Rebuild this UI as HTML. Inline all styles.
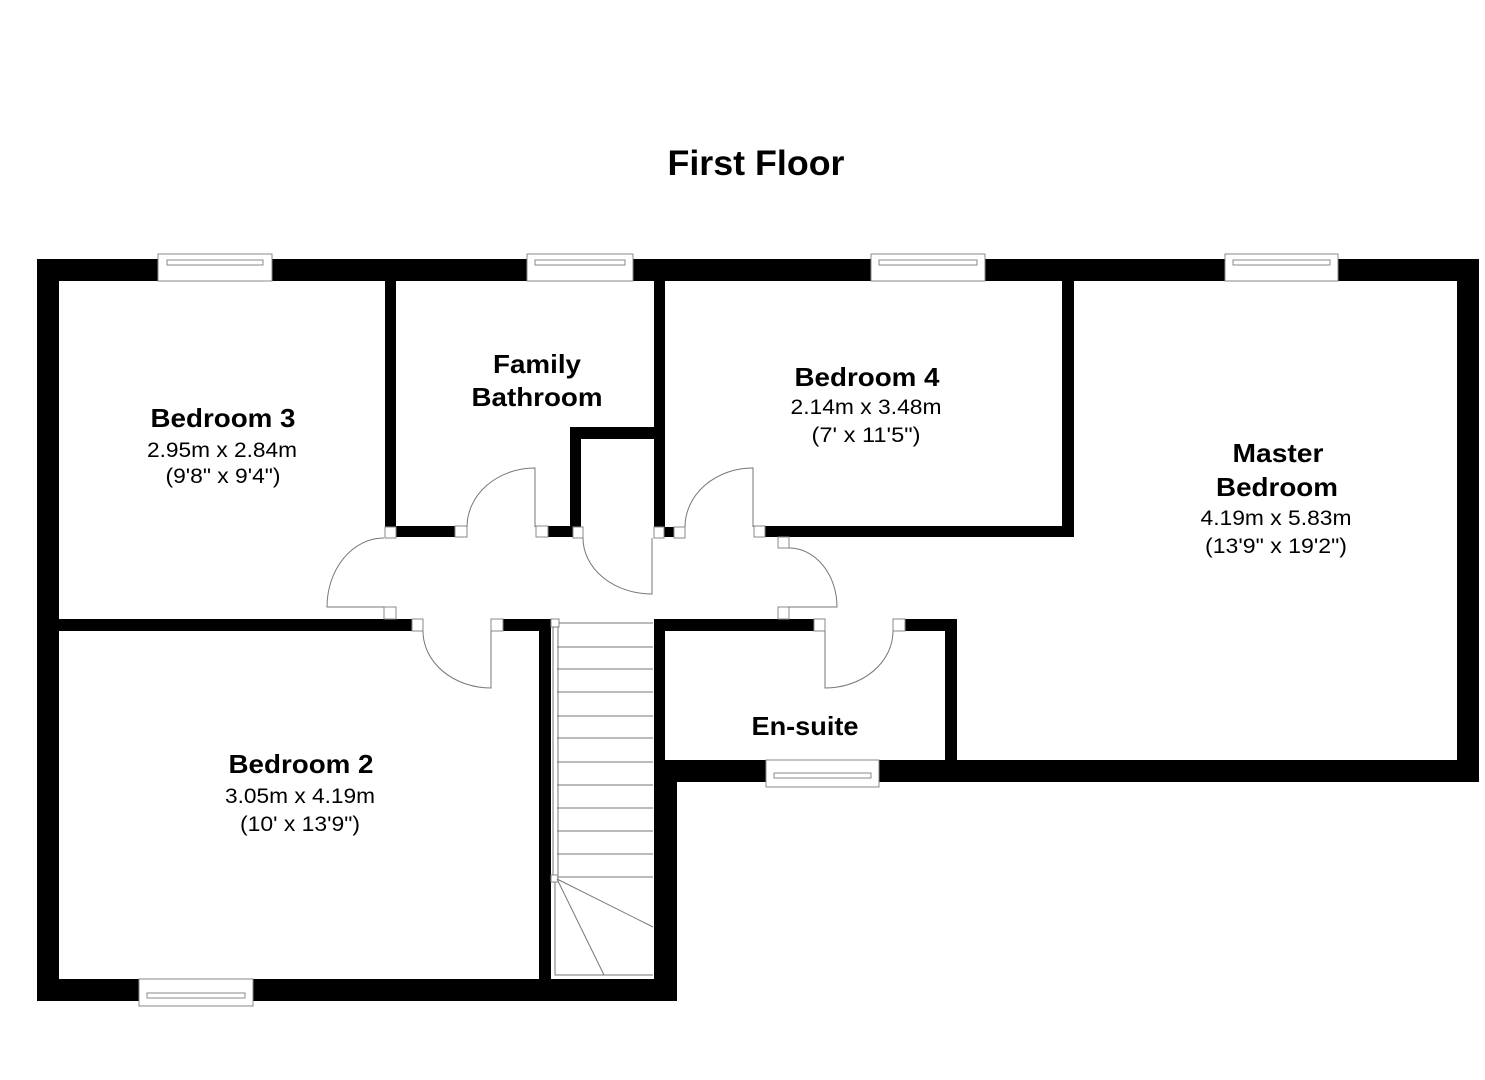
<!DOCTYPE html>
<html><head><meta charset="utf-8"><style>
html,body{margin:0;padding:0;background:#fff;}
svg{display:block;}
text{font-family:"Liberation Sans",Arial,sans-serif;fill:#000;}
.t{font-weight:bold;font-size:26px;}
.d{font-size:21px;}
.b{fill:#fff;stroke:#888;stroke-width:1;}
.l{fill:none;stroke:#777;stroke-width:1;}
</style></head><body>
<svg width="1485" height="1080" viewBox="0 0 1485 1080" xmlns="http://www.w3.org/2000/svg">
<rect width="1485" height="1080" fill="#fff"/>
<text x="756" y="175" text-anchor="middle" style="font-weight:bold;font-size:35px" textLength="177" lengthAdjust="spacingAndGlyphs">First Floor</text>
<g fill="#000">
<rect x="37" y="259" width="1442" height="22"/>
<rect x="37" y="259" width="22" height="742"/>
<rect x="1457" y="259" width="22" height="523"/>
<rect x="654" y="760" width="825" height="22"/>
<rect x="654" y="760" width="23" height="241"/>
<rect x="654" y="619" width="11" height="145"/>
<rect x="37" y="979" width="640" height="22"/>
<rect x="385" y="281" width="11" height="246"/>
<rect x="396" y="526" width="59" height="11"/>
<rect x="548" y="526" width="25" height="11"/>
<rect x="570" y="427" width="11" height="110"/>
<rect x="570" y="427" width="95" height="12"/>
<rect x="654" y="281" width="11" height="246"/>
<rect x="664" y="527" width="10" height="10"/>
<rect x="1062" y="281" width="12" height="256"/>
<rect x="765" y="526" width="309" height="11"/>
<rect x="37" y="619" width="375" height="12"/>
<rect x="503" y="619" width="48" height="12"/>
<rect x="539" y="619" width="12" height="360"/>
<rect x="654" y="619" width="160" height="12"/>
<rect x="905" y="619" width="52" height="12"/>
<rect x="945" y="619" width="12" height="141"/>
</g>
<g>
<rect class="b" x="158" y="254" width="114" height="27"/><rect class="b" x="167" y="260" width="96" height="5"/>
<rect class="b" x="527" y="254" width="106" height="27"/><rect class="b" x="535" y="260" width="90" height="5"/>
<rect class="b" x="871" y="254" width="114" height="27"/><rect class="b" x="879" y="260" width="98" height="5"/>
<rect class="b" x="1225" y="254" width="113" height="27"/><rect class="b" x="1233" y="260" width="97" height="5"/>
<rect class="b" x="139" y="979" width="114" height="27"/><rect class="b" x="147" y="993" width="98" height="5"/>
<rect class="b" x="766" y="760" width="113" height="27"/><rect class="b" x="774" y="773" width="97" height="5"/>
</g>
<g>
<rect class="b" x="385" y="527" width="11" height="11"/>
<rect class="b" x="384" y="607" width="12" height="12"/>
<rect class="b" x="455" y="526" width="12" height="11"/>
<rect class="b" x="536" y="526" width="12" height="11"/>
<rect class="b" x="573" y="527" width="10" height="11"/>
<rect class="b" x="654" y="527" width="10" height="11"/>
<rect class="b" x="674" y="527" width="11" height="11"/>
<rect class="b" x="754" y="526" width="11" height="11"/>
<rect class="b" x="778" y="537" width="11" height="11"/>
<rect class="b" x="778" y="607" width="11" height="12"/>
<rect class="b" x="412" y="619" width="11" height="12"/>
<rect class="b" x="491" y="619" width="12" height="12"/>
<rect class="b" x="814" y="619" width="11" height="12"/>
<rect class="b" x="893" y="619" width="12" height="12"/>
</g>
<g class="l">
<path d="M384 607 H327 A57 69 0 0 1 384 538"/>
<path d="M535 527 V468 A68 59 0 0 0 467 527"/>
<path d="M652 538 V594 A69 56 0 0 1 583 538"/>
<path d="M753 527 V468 A68 59 0 0 0 685 527"/>
<path d="M789 607 H837 A48 59 0 0 0 789 548"/>
<path d="M491 631 V688 A68 57 0 0 1 423 631"/>
<path d="M825 631 V688 A68 57 0 0 0 893 631"/>
</g>
<g class="l">
<rect class="b" x="551" y="619" width="8" height="8"/>
<path d="M559 623 H653"/>
<rect x="553" y="627" width="5" height="248"/>
<rect class="b" x="551" y="875" width="7" height="7"/>
<path d="M557 647H653 M557 669H653 M557 692H653 M557 716H653 M557 738H653 M557 762H653 M557 785H653 M557 808H653 M557 831H653 M557 854H653 M557 877H653"/>
<path d="M557 879 L653 927 M557 879 L604 975"/>
<path d="M555 882 V975 H653"/>
</g>
<g text-anchor="middle" lengthAdjust="spacingAndGlyphs">
<text class="t" x="223" y="427" textLength="145" lengthAdjust="spacingAndGlyphs">Bedroom 3</text>
<text class="d" x="222" y="457" textLength="150" lengthAdjust="spacingAndGlyphs">2.95m x 2.84m</text>
<text class="d" x="223" y="483" textLength="115" lengthAdjust="spacingAndGlyphs">(9'8" x 9'4")</text>
<text class="t" x="537" y="373" textLength="88" lengthAdjust="spacingAndGlyphs">Family</text>
<text class="t" x="537" y="406" textLength="131" lengthAdjust="spacingAndGlyphs">Bathroom</text>
<text class="t" x="867" y="386" textLength="145" lengthAdjust="spacingAndGlyphs">Bedroom 4</text>
<text class="d" x="866" y="414" textLength="151" lengthAdjust="spacingAndGlyphs">2.14m x 3.48m</text>
<text class="d" x="866" y="442" textLength="109" lengthAdjust="spacingAndGlyphs">(7' x 11'5")</text>
<text class="t" x="1278" y="462" textLength="91" lengthAdjust="spacingAndGlyphs">Master</text>
<text class="t" x="1277" y="496" textLength="122" lengthAdjust="spacingAndGlyphs">Bedroom</text>
<text class="d" x="1276" y="525" textLength="151" lengthAdjust="spacingAndGlyphs">4.19m x 5.83m</text>
<text class="d" x="1276" y="553" textLength="142" lengthAdjust="spacingAndGlyphs">(13'9" x 19'2")</text>
<text class="t" x="301" y="773" textLength="145" lengthAdjust="spacingAndGlyphs">Bedroom 2</text>
<text class="d" x="300" y="803" textLength="150" lengthAdjust="spacingAndGlyphs">3.05m x 4.19m</text>
<text class="d" x="300" y="831" textLength="120" lengthAdjust="spacingAndGlyphs">(10' x 13'9")</text>
<text class="t" x="805" y="735" textLength="107" lengthAdjust="spacingAndGlyphs">En-suite</text>
</g>
</svg>
</body></html>
